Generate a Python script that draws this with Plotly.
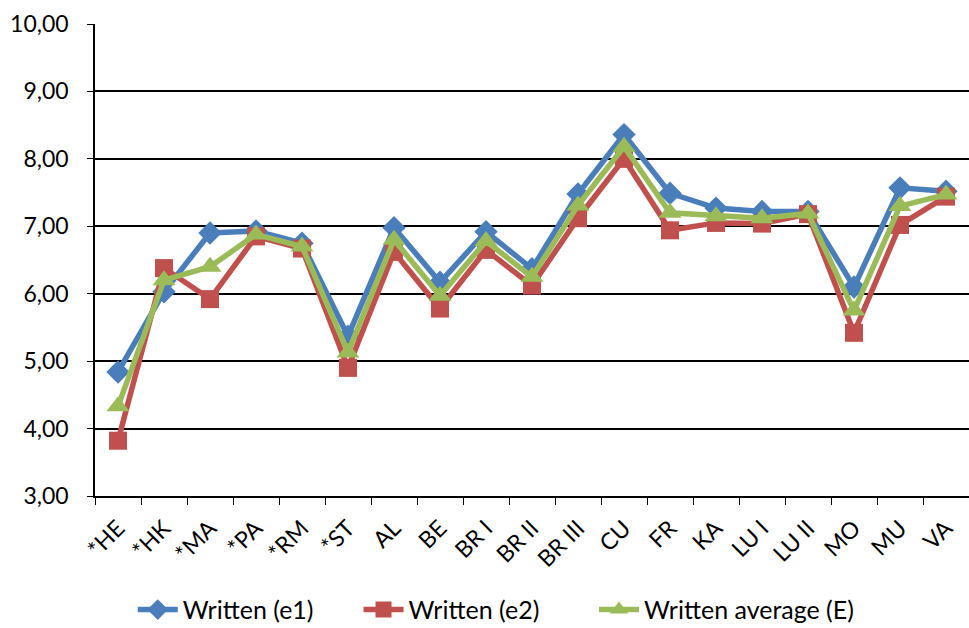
import plotly.graph_objects as go

categories = ["*HE", "*HK", "*MA", "*PA", "*RM", "*ST", "AL", "BE", "BR I", "BR II",
              "BR III", "CU", "FR", "KA", "LU I", "LU II", "MO", "MU", "VA"]
written_e1 = [4.84, 6.03, 6.90, 6.93, 6.75, 5.37, 6.98, 6.17, 6.92, 6.37,
              7.48, 8.36, 7.49, 7.27, 7.22, 7.22, 6.10, 7.57, 7.52]
written_e2 = [3.82, 6.38, 5.92, 6.85, 6.67, 4.90, 6.62, 5.78, 6.65, 6.12,
              7.12, 8.00, 6.94, 7.05, 7.04, 7.18, 5.42, 7.02, 7.44]
written_avg = [4.33, 6.20, 6.40, 6.88, 6.70, 5.13, 6.80, 5.97, 6.78, 6.25,
               7.31, 8.18, 7.20, 7.15, 7.12, 7.19, 5.75, 7.30, 7.47]
series_names = ["Written (e1)", "Written (e2)", "Written average (E)"]
y_ticks = [3, 4, 5, 6, 7, 8, 9, 10]

colors = ["#4A7EBB", "#C0504D", "#9BBB59"]
symbols = ["diamond", "square", "triangle-up"]
sizes = [18, 18, 20]
legend_ids = ["legend", "legend2", "legend3"]
legend_x = [0.137, 0.370, 0.613]

fig = go.Figure()
for name, vals, c, s, sz, lg in zip(series_names, [written_e1, written_e2, written_avg],
                                     colors, symbols, sizes, legend_ids):
    fig.add_trace(go.Scatter(
        x=categories, y=vals, name=name, mode="lines+markers",
        line=dict(color=c, width=5.5),
        marker=dict(symbol=s, size=sz, color=c),
        legend=lg,
    ))

legend_common = dict(orientation="h", xanchor="left", xref="container", yref="container",
                     y=0.029, yanchor="middle", font=dict(size=25), itemwidth=40,
                     bgcolor="rgba(0,0,0,0)")
fig.update_layout(
    width=969, height=628,
    margin=dict(l=95, r=0, t=24, b=132),
    paper_bgcolor="white", plot_bgcolor="white",
    font=dict(family="Lato, Open Sans, sans-serif", color="black"),
    separators=",.",
    showlegend=True,
    legend=dict(x=legend_x[0], **legend_common),
    legend2=dict(x=legend_x[1], **legend_common),
    legend3=dict(x=legend_x[2], **legend_common),
    xaxis=dict(
        type="category", showgrid=False, showline=True, linecolor="black", linewidth=1.5,
        ticks="outside", tickson="boundaries", ticklen=7, tickcolor="black",
        tickangle=-45, tickfont=dict(size=23), range=[-0.5, 18.5], automargin=False,
        ticklabelstandoff=8,
    ),
    yaxis=dict(
        range=[3, 10], tickvals=y_ticks, tickformat=".2f",
        showgrid=True, gridcolor="black", gridwidth=1.5,
        showline=True, linecolor="black", linewidth=1.5,
        ticks="outside", ticklen=6, tickcolor="black",
        tickfont=dict(size=23), zeroline=False, automargin=False,
        ticklabelstandoff=14,
    ),
)

fig.write_html("out.html", config={"displayModeBar": False},
               post_script="document.body.style.margin='0';document.body.style.padding='0';")
